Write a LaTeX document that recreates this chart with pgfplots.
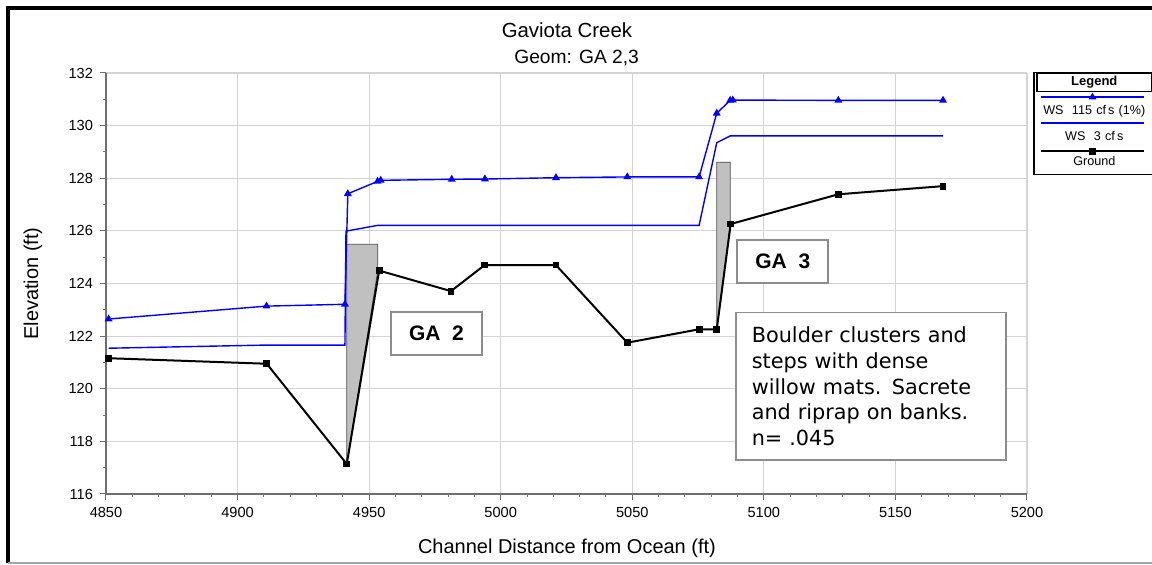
\documentclass[border=0pt]{standalone}
\usepackage{fontspec}
\setmainfont{Liberation Sans}
\newfontfamily\dejavu{DejaVu Sans}
\usepackage{pgfplots}
\pgfplotsset{compat=1.18}
\definecolor{gridc}{HTML}{D4D4D4}
\definecolor{axc}{HTML}{6E6E6E}
\definecolor{structfill}{HTML}{C0C0C0}
\definecolor{boxc}{HTML}{8C8C8C}
\begin{document}
\begin{tikzpicture}
\begin{axis}[
  name=ax,
  scale only axis, width=460.5pt, height=210.5pt,
  xmin=4850, xmax=5200, ymin=116, ymax=132,
  xtick={4850,4900,...,5200}, ytick={116,118,...,132},
  minor x tick num=4, minor y tick num=1,
  grid=major, major grid style={draw=gridc, line width=0.6pt},
  axis lines*=left, axis line style={draw=axc, line width=0.75pt, -},
  tick align=outside, major tick length=3pt, minor tick length=1.5pt,
  tick style={draw=axc, line width=0.5pt},
  ticklabel style={font=\fontsize{7.3}{8}\selectfont},
  /pgf/number format/assume math mode=true,
  /pgf/number format/1000 sep={},
  xlabel={Channel Distance from Ocean (ft)}, ylabel={Elevation (ft)},
  label style={font=\fontsize{10}{12}\selectfont},
  every axis x label/.style={at={(axis description cs:0.5005,-0.128)}, anchor=center},
  every axis y label/.style={at={(axis description cs:-0.0793,0.5)}, anchor=center, rotate=90},
  clip=false,
  legend cell align=left,
  legend style={at={(1.0076,1.0007)}, anchor=north west, draw=black, line width=0.6pt,
    fill=white, inner sep=0pt, outer sep=0pt, column sep=0pt, row sep=0pt,
    font=\fontsize{6.3}{7}\selectfont,
    nodes={inner sep=0pt, outer sep=0pt, text width=57.5pt, align=center,
      text height=11pt, text depth=1.9pt}},
  legend image code/.code={%
    \draw[overlay,#1,mark repeat=2,mark phase=2] plot coordinates {(3pt,4pt) (28.75pt,4pt) (54.5pt,4pt)};
    \path (0pt,0pt);},
]
\addlegendimage{empty legend}
\addlegendentry[draw=black, line width=0.8pt, text height=5.9pt, text depth=3.1pt, font=\bfseries\fontsize{6.5}{8}\selectfont]{Legend}

% structures
\addplot[forget plot, fill=structfill, draw=black!70, line width=0.4pt]
  coordinates {(4941.5,117.14) (4941.5,125.49) (4953.3,125.49) (4953.3,124.49)} -- cycle;
\addplot[forget plot, fill=structfill, draw=black!70, line width=0.4pt]
  coordinates {(5082.1,122.26) (5082.1,128.61) (5087.2,128.61) (5087.2,126.26)} -- cycle;

% WS 115 cfs
\addplot[blue, line width=0.7pt, mark=triangle*, mark size=1.6pt]
  coordinates {(4851,122.65) (4911,123.14) (4940.8,123.21) (4941.9,127.41)
  (4953.2,127.88) (4954.4,127.92) (4981.4,127.96) (4994,127.97) (5021,128.02)
  (5048.1,128.05) (5075.4,128.05) (5082.1,130.47) (5087.2,130.96) (5088.2,130.97)
  (5128.3,130.96) (5168.1,130.96)};
\addlegendentry{WS\ \ 115 cf\,s (1\%)}

% WS 3 cfs
\addplot[blue, line width=0.7pt, mark=none]
  coordinates {(4851,121.54) (4911,121.66) (4940.8,121.66) (4941.2,125.99)
  (4953.3,126.21) (5075.4,126.21) (5082.1,129.35) (5087.2,129.61) (5168.1,129.61)};
\addlegendentry{WS\ \ 3 cf\,s}

% Ground
\addplot[black, line width=1pt, mark=square*, mark size=1.2pt]
  coordinates {(4851,121.16) (4911.1,120.95) (4941.5,117.14) (4953.8,124.49)
  (4981.1,123.71) (4993.9,124.70) (5021,124.70) (5048.1,121.75) (5075.4,122.26)
  (5082.1,122.26) (5087.4,126.26) (5128.3,127.39) (5168.1,127.70)};
\addlegendentry[text depth=4.3pt]{Ground}

\node[draw=boxc, line width=1pt, fill=white, minimum width=45.5pt, minimum height=21.7pt,
  font=\bfseries\fontsize{10.5}{12}\selectfont] at (axis cs:4975.6,122.1) {GA\ \ 2};
\node[draw=boxc, line width=1pt, fill=white, minimum width=45.5pt, minimum height=21.3pt,
  font=\bfseries\fontsize{10.5}{12}\selectfont] at (axis cs:5107.2,124.84) {GA\ \ 3};
\node[draw=boxc, line width=0.9pt, fill=white, anchor=north west, text width=119pt,
  inner xsep=8pt, inner ysep=0pt, minimum height=73.8pt, align=left,
  font=\dejavu\fontsize{10.4}{12.9}\selectfont] at (axis cs:5089,122.93)
  {Boulder clusters and\\steps with dense\\willow mats. Sacrete\\and riprap on banks.\\n= .045};

\node[font=\fontsize{10.2}{12}\selectfont] at (axis description cs:0.5005,1.102) {Gaviota Creek};
\node[font=\fontsize{9.6}{11}\selectfont] at (axis description cs:0.511,1.0356) {Geom: GA 2,3};
\end{axis}
\draw[black, line width=2pt] (-49pt,-34.5pt) -- (-49pt,244pt);
\draw[black, line width=2pt] (-50pt,243pt) -- (523pt,243pt);
\draw[black!35, line width=0.6pt] (-49pt,-34.5pt) -- (523pt,-34.5pt);
\pgfresetboundingbox
\path[use as bounding box] (-53pt,-35.5pt) rectangle (523pt,247pt);
\end{tikzpicture}
\end{document}
